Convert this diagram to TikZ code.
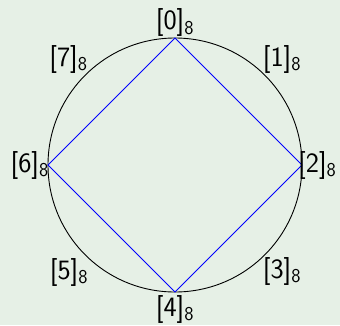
\documentclass[tikz,border=0pt]{standalone}
\definecolor{bgcol}{RGB}{230,240,230}
\tikzset{
  lab/.style={inner sep=0pt, font=\fontsize{28}{34}\selectfont\sffamily},
  sq/.style={blue, line width=0.8pt},
  circ/.style={black, line width=0.9pt}
}
\newcommand{\lbl}[1]{[#1]\textsubscript{8}}
\begin{document}
\begin{tikzpicture}[x=1pt,y=-1pt]
\path[fill=bgcol] (0,0) rectangle (340,325);
\useasboundingbox (0,0) rectangle (340,325);
\coordinate (c) at (175,165);
\draw[circ] (c) circle [radius=127pt];
\coordinate (v0) at (175,38);
\coordinate (v2) at (302,165);
\coordinate (v4) at (175,292);
\coordinate (v6) at (48,165);
\draw[sq] (v0) -- (v2) -- (v4) -- (v6) -- cycle;
\node[lab, anchor=south] (l0) at (175,37) {\lbl{0}};
\node[lab, anchor=west] (l2) at (298,165) {\lbl{2}};
\node[lab, anchor=north] (l4) at (175,295) {\lbl{4}};
\node[lab, anchor=east] (l6) at (49,165) {\lbl{6}};
\node[lab] (l7) at (68.5,59) {\lbl{7}};
\node[lab] (l1) at (282,59) {\lbl{1}};
\node[lab] (l5) at (69,272) {\lbl{5}};
\node[lab] (l3) at (282,271) {\lbl{3}};
\end{tikzpicture}
\end{document}
